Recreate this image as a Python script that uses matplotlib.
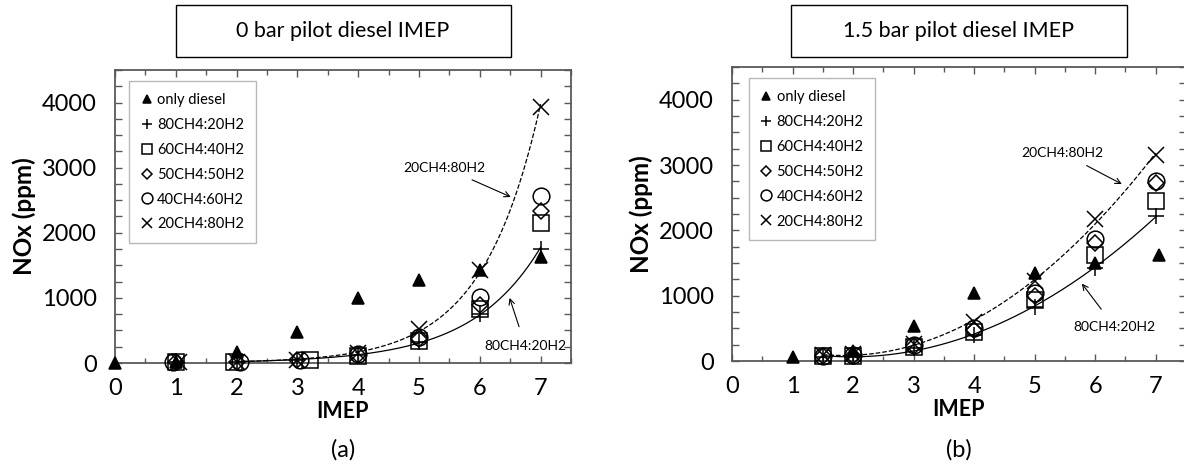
import numpy as np
import matplotlib.pyplot as plt
from matplotlib.patches import Rectangle
from matplotlib.ticker import MultipleLocator

plt.rcParams['font.family'] = ['Lato', 'DejaVu Sans']

SERIES = ['only diesel', '80CH4:20H2', '60CH4:40H2', '50CH4:50H2', '40CH4:60H2', '20CH4:80H2']

# (a) 0 bar pilot diesel IMEP
a_diesel_x = [0, 1, 2, 3, 4, 5, 6, 7]
a_diesel_y = [0, 10, 170, 480, 1000, 1280, 1430, 1630]
a_80_20_x = [1, 2, 3, 4, 5, 6, 7]
a_80_20_y = [10, 10, 40, 120, 330, 760, 1750]
a_60_40_x = [1, 1.95, 3.2, 4, 5, 6, 7]
a_60_40_y = [10, 10, 50, 110, 340, 830, 2150]
a_50_50_x = [1, 2, 3, 4, 5, 6, 7]
a_50_50_y = [10, 10, 40, 130, 370, 890, 2330]
a_40_60_x = [0.95, 2.05, 3.05, 4, 5, 6, 7]
a_40_60_y = [10, 10, 50, 140, 400, 1020, 2570]
a_20_80_x = [1.05, 2, 3, 4, 5, 6, 7]
a_20_80_y = [20, 10, 40, 150, 520, 1430, 3930]

# (b) 1.5 bar pilot diesel IMEP
b_diesel_x = [1, 2, 3, 4, 5, 6, 7.05]
b_diesel_y = [60, 150, 530, 1040, 1340, 1500, 1620]
b_mix_x = [1.5, 2, 3, 4, 5, 6, 7]
b_80_20_y = [60, 70, 200, 400, 820, 1430, 2220]
b_60_40_y = [70, 80, 210, 450, 940, 1620, 2450]
b_50_50_y = [75, 80, 230, 480, 1000, 1800, 2720]
b_40_60_y = [80, 85, 240, 500, 1040, 1860, 2760]
b_20_80_y = [90, 100, 260, 590, 1220, 2170, 3150]

MARKERS = [('^', 9, True), ('+', 12, False), ('s', 11, False),
           ('D', 8, False), ('o', 12, False), ('x', 11, False)]
GRAY = '#595959'


def style_axes(ax):
    ax.set_xlim(0, 7.5)
    ax.set_ylim(0, 4500)
    ax.xaxis.set_major_locator(MultipleLocator(1))
    ax.xaxis.set_minor_locator(MultipleLocator(0.5))
    ax.yaxis.set_major_locator(MultipleLocator(1000))
    ax.yaxis.set_minor_locator(MultipleLocator(250))
    ax.tick_params(which='both', direction='in', top=True, right=True,
                   color=GRAY, width=1.0, labelsize=17)
    ax.tick_params(axis='y', which='both', length=5, pad=13)
    ax.tick_params(axis='x', which='major', length=5, pad=11)
    ax.tick_params(axis='x', which='minor', length=3.5)
    for s in ax.spines.values():
        s.set_color(GRAY)
        s.set_linewidth(1.3)
    ax.set_xlabel('IMEP', fontsize=15.5, fontweight='bold', labelpad=1)
    ax.set_ylabel('NOx (ppm)', fontsize=17.5, fontweight='bold', labelpad=4)


def scatter_all(ax, xs, ys):
    for (m, ms, filled), x, y, lab in zip(MARKERS, xs, ys, SERIES):
        ax.plot(x, y, linestyle='none', marker=m, markersize=ms, label=lab,
                color='black', markerfacecolor='black' if filled else 'none',
                markeredgewidth=1.1, clip_on=False, zorder=3)


def add_legend(ax, x0):
    leg = ax.legend(loc='upper left', bbox_to_anchor=(x0, 0.962), borderaxespad=0,
                    fontsize=10.5, frameon=True, fancybox=False, edgecolor='#a6a6a6',
                    handlelength=0.8, handletextpad=0.3, labelspacing=0.75,
                    borderpad=0.8, markerscale=0.65)
    leg.get_frame().set_linewidth(1.0)


def title_box(fig, ax, text):
    pos = ax.get_position()
    cx = (pos.x0 + pos.x1) / 2
    w, h = 335 / 1184, 52 / 468
    fig.patches.append(Rectangle((cx - w / 2, 1 - 57 / 468), w, h, transform=fig.transFigure,
                                 facecolor='white', edgecolor='black', linewidth=1.0))
    fig.text(cx, 1 - 31 / 468, text, ha='center', va='center', fontsize=15.5)


fig = plt.figure(figsize=(11.84, 4.68), dpi=100)
ax1 = fig.add_axes([115 / 1184, 105 / 468, 456 / 1184, 293 / 468])
ax2 = fig.add_axes([732 / 1184, 107 / 468, 454 / 1184, 294 / 468])

# ---- panel (a)
style_axes(ax1)
scatter_all(ax1,
            [a_diesel_x, a_80_20_x, a_60_40_x, a_50_50_x, a_40_60_x, a_20_80_x],
            [a_diesel_y, a_80_20_y, a_60_40_y, a_50_50_y, a_40_60_y, a_20_80_y])
# exponential trendlines
xx = np.linspace(2, 7, 200)
for x, y, ls in [(a_80_20_x, a_80_20_y, '-'), (a_20_80_x, a_20_80_y, '--')]:
    x = np.array(x)
    y = np.array(y, dtype=float)
    k = x >= 3
    b, a = np.polyfit(x[k], np.log(y[k]), 1, w=np.sqrt(y[k]))
    ax1.plot(xx, np.exp(a + b * xx), ls, color='black', lw=0.9)
add_legend(ax1, 0.031)
ax1.annotate('20CH4:80H2', xy=(6.51, 2550), xytext=(5.42, 3000), fontsize=10,
             ha='center', va='center',
             arrowprops=dict(arrowstyle='->', lw=0.8, color='black', shrinkA=6, shrinkB=0))
ax1.annotate('80CH4:20H2', xy=(6.49, 1000), xytext=(6.75, 260), fontsize=10,
             ha='center', va='center',
             arrowprops=dict(arrowstyle='->', lw=0.8, color='black', shrinkA=8, shrinkB=0))
fig.text((115 + 571) / 2 / 1184, 1 - 450 / 468, '(a)', ha='center', va='center', fontsize=17)

# ---- panel (b)
style_axes(ax2)
scatter_all(ax2,
            [b_diesel_x, b_mix_x, b_mix_x, b_mix_x, b_mix_x, b_mix_x],
            [b_diesel_y, b_80_20_y, b_60_40_y, b_50_50_y, b_40_60_y, b_20_80_y])
xx = np.linspace(1.5, 7, 200)
for y, ls in [(b_80_20_y, '-'), (b_20_80_y, '--')]:
    p = np.polyfit(b_mix_x, y, 2)
    ax2.plot(xx, np.polyval(p, xx), ls, color='black', lw=0.9)
add_legend(ax2, 0.037)
ax2.annotate('20CH4:80H2', xy=(6.44, 2708), xytext=(5.46, 3185), fontsize=10,
             ha='center', va='center',
             arrowprops=dict(arrowstyle='->', lw=0.8, color='black', shrinkA=6, shrinkB=0))
ax2.annotate('80CH4:20H2', xy=(5.78, 1185), xytext=(6.32, 523), fontsize=10,
             ha='center', va='center',
             arrowprops=dict(arrowstyle='->', lw=0.8, color='black', shrinkA=8, shrinkB=0))
fig.text((732 + 1186) / 2 / 1184, 1 - 450 / 468, '(b)', ha='center', va='center', fontsize=17)

title_box(fig, ax1, '0 bar pilot diesel IMEP')
title_box(fig, ax2, '1.5 bar pilot diesel IMEP')

fig.savefig('out.png', dpi=100)
